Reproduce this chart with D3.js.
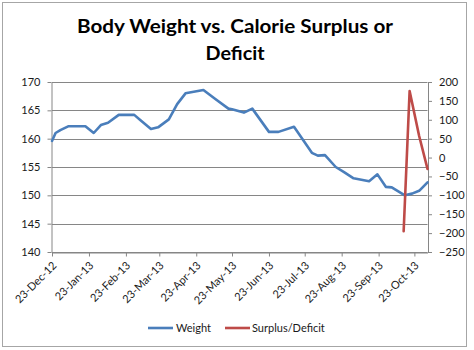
<!DOCTYPE html>
<html>
<head>
<meta charset="utf-8">
<script src="https://cdn.jsdelivr.net/npm/d3@7"></script>
<style>
  body { margin: 0; background: #fff; }
  text { font-family: Lato, "Open Sans", sans-serif; }
</style>
</head>
<body>
<svg id="chart"></svg>
<script>
// weight readings (lbs)
var weightDates = ["2012-12-23","2012-12-26","2012-12-30","2013-01-06","2013-01-20","2013-01-27",
  "2013-02-02","2013-02-08","2013-02-17","2013-03-02","2013-03-07","2013-03-16","2013-03-22",
  "2013-03-31","2013-04-07","2013-04-14","2013-04-29","2013-05-09","2013-05-20","2013-05-23",
  "2013-06-02","2013-06-09","2013-06-23","2013-07-01","2013-07-14","2013-07-29","2013-08-03",
  "2013-08-09","2013-08-18","2013-08-25","2013-09-02","2013-09-15","2013-09-22","2013-09-29",
  "2013-10-04","2013-10-15","2013-10-21","2013-10-27","2013-11-03"];
var weightValues = [159.6,161.0,161.5,162.2,162.2,161.0,
  162.4,162.8,164.2,164.2,163.3,161.7,162.0,
  163.4,166.1,168.0,168.6,167.0,165.3,165.2,
  164.6,165.3,161.2,161.2,162.1,157.5,157.0,
  157.1,155.0,154.1,153.0,152.5,153.7,151.5,
  151.4,150.0,150.3,150.8,152.3];
// calorie surplus / deficit, only at the end
var deficitDates = ["2013-10-14","2013-10-19","2013-10-27","2013-11-03"];
var deficitValues = [-195,176,57,-30];

var leftTicks = [140,145,150,155,160,165,170];
var rightTicks = [-250,-200,-150,-100,-50,0,50,100,150,200];
var monthTicks = ["2012-12-23","2013-01-23","2013-02-23","2013-03-23","2013-04-23","2013-05-23",
  "2013-06-23","2013-07-23","2013-08-23","2013-09-23","2013-10-23"];

var width = 474, height = 350;
var plotLeft = 52, plotRight = 427.5, plotTop = 82, plotBottom = 252;
let blue = "#4A7EBB", red = "#BE4B48", gridColor = "#868686";

var parse = d3.timeParse("%Y-%m-%d");
var fmt = d3.timeFormat("%-d-%b-%y");

var svg = d3.select("#chart").attr("width", width).attr("height", height);
svg.append("rect").attr("x",0).attr("y",0).attr("width",width).attr("height",height).attr("fill","#fff");
// chart border
svg.append("rect").attr("x",2.5).attr("y",2.5).attr("width",464).attr("height",344)
   .attr("fill","none").attr("stroke","#a6a6a6");

var x = d3.scaleTime()
        .domain([parse(weightDates[0]), parse(weightDates[weightDates.length-1])])
        .range([plotLeft, plotRight]);
var yLeft = d3.scaleLinear().domain([140,170]).range([plotBottom, plotTop]);
var yRight = d3.scaleLinear().domain([-250,200]).range([plotBottom, plotTop]);

// title
var title = svg.append("g").attr("font-weight","bold").attr("font-size",19).attr("fill","#000")
               .attr("text-anchor","middle");
title.append("text").attr("x",235).attr("y",33).attr("textLength",316)
     .attr("lengthAdjust","spacingAndGlyphs").text("Body Weight vs. Calorie Surplus or");
title.append("text").attr("x",235).attr("y",60).attr("textLength",59)
     .attr("lengthAdjust","spacingAndGlyphs").text("Deficit");

// gridlines
svg.append("g").selectAll("line").data(leftTicks).enter().append("line")
   .attr("x1",plotLeft).attr("x2",plotRight)
   .attr("y1",d => Math.round(yLeft(d))+0.5).attr("y2",d => Math.round(yLeft(d))+0.5)
   .attr("stroke",gridColor);

function styleAxis(g){
  g.selectAll("path").attr("stroke",gridColor);
  g.selectAll("line").attr("stroke",gridColor);
  g.selectAll("text").attr("fill","#1a1a1a").attr("font-size",11).attr("font-family","Lato, sans-serif");
}

var leftAxis = svg.append("g").attr("transform","translate("+(plotLeft-0.5)+",0)")
   .call(d3.axisLeft(yLeft).tickValues(leftTicks).tickSize(4).tickSizeOuter(0).tickPadding(7));
styleAxis(leftAxis);

var rightAxis = svg.append("g").attr("transform","translate("+(plotRight+0.5)+",0)")
   .call(d3.axisRight(yRight).tickValues(rightTicks).tickSize(4).tickSizeOuter(0).tickPadding(7));
styleAxis(rightAxis);

var bottomAxis = svg.append("g").attr("transform","translate(0,"+(plotBottom+0.5)+")")
   .call(d3.axisBottom(x).tickValues(monthTicks.map(parse)).tickFormat(fmt).tickSize(4).tickSizeOuter(0));
styleAxis(bottomAxis);
bottomAxis.selectAll("text")
   .attr("x",0).attr("y",0).attr("dy","0.35em")
   .attr("transform","translate(2,11) rotate(-45)")
   .style("text-anchor","end");

// series lines
var line = d3.line().x(d => x(d.date)).y(d => d.y);
var weightData = weightDates.map((d,i) => ({date: parse(d), y: yLeft(weightValues[i])}));
var deficitData = deficitDates.map((d,i) => ({date: parse(d), y: yRight(deficitValues[i])}));

svg.append("path").datum(weightData).attr("d",line).attr("fill","none")
   .attr("stroke",blue).attr("stroke-width",2.6).attr("stroke-linejoin","round").attr("stroke-linecap","round");
svg.append("path").datum(deficitData).attr("d",line).attr("fill","none")
   .attr("stroke",red).attr("stroke-width",2.6).attr("stroke-linejoin","round").attr("stroke-linecap","round");

// legend
var legend = svg.append("g").attr("font-size",11).attr("fill","#1a1a1a");
legend.append("line").attr("x1",148).attr("x2",173).attr("y1",328).attr("y2",328)
      .attr("stroke",blue).attr("stroke-width",2.6);
legend.append("text").attr("x",176).attr("y",332).text("Weight");
legend.append("line").attr("x1",225).attr("x2",250).attr("y1",328).attr("y2",328)
      .attr("stroke",red).attr("stroke-width",2.6);
legend.append("text").attr("x",252).attr("y",332).text("Surplus/Deficit");
</script>
</body>
</html>
